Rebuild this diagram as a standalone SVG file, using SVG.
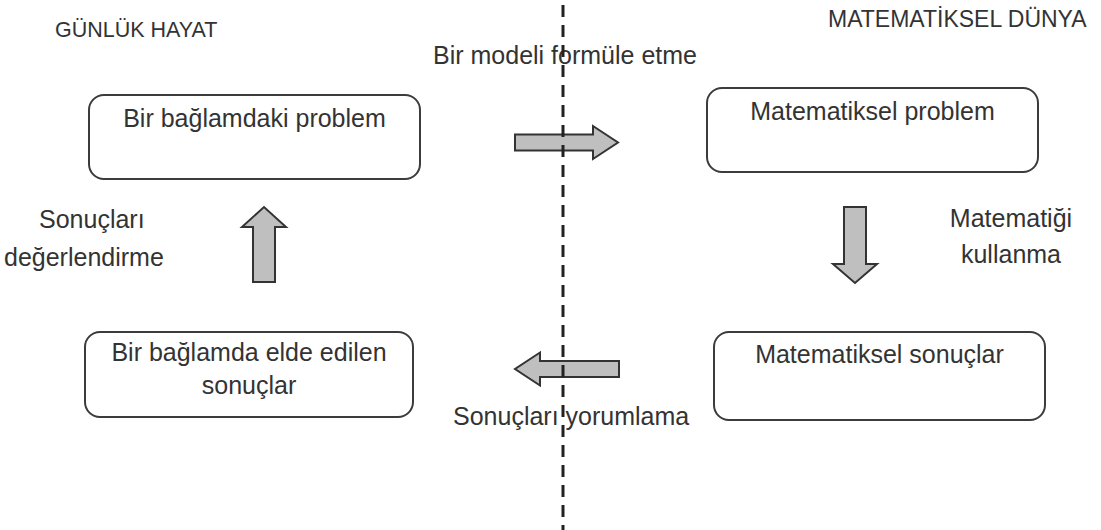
<svg xmlns="http://www.w3.org/2000/svg" width="1101" height="530" viewBox="0 0 1101 530">
  <style>
    .box { fill: #ffffff; stroke: #3c3c3c; stroke-width: 2; }
    .arrow { fill: #bfbfbf; stroke: #333333; stroke-width: 2; stroke-linejoin: miter; }
    .t { font-family: "Liberation Sans", Arial, sans-serif; font-size: 25px; fill: #333333; }
    .c { text-anchor: middle; }
    .title { font-family: "Liberation Sans", Arial, sans-serif; fill: #333333; }
    .divider { stroke: #222222; stroke-width: 3; stroke-dasharray: 12 8; fill: none; }
  </style>
  <rect x="0" y="0" width="1101" height="530" fill="#ffffff"/>

  <g id="title-gunluk-hayat">
    <text class="title" x="55" y="37" font-size="21.5">GÜNLÜK HAYAT</text>
  </g>
  <g id="title-matematiksel-dunya">
    <text class="title" x="828" y="27" font-size="23">MATEMATİKSEL DÜNYA</text>
  </g>

  <g id="node-baglamdaki-problem">
    <rect class="box" x="89" y="95" width="331" height="84" rx="15" ry="15"/>
    <text class="t c" x="254.5" y="127">Bir bağlamdaki problem</text>
  </g>
  <g id="node-matematiksel-problem">
    <rect class="box" x="707" y="88" width="331" height="84" rx="15" ry="15"/>
    <text class="t c" x="872.5" y="120">Matematiksel problem</text>
  </g>
  <g id="node-baglamda-sonuclar">
    <rect class="box" x="85" y="332" width="328" height="85" rx="15" ry="15"/>
    <text class="t c" x="249" y="361">Bir bağlamda elde edilen</text>
    <text class="t c" x="249" y="394">sonuçlar</text>
  </g>
  <g id="node-matematiksel-sonuclar">
    <rect class="box" x="714" y="332" width="331" height="88" rx="15" ry="15"/>
    <text class="t c" x="879.5" y="363">Matematiksel sonuçlar</text>
  </g>

  <g id="connectors">
    <polygon class="arrow" points="515,134.5 593,134.5 593,126 618,142.5 593,159 593,150.5 515,150.5"/>
    <polygon class="arrow" points="844,207 866,207 866,264 877,264 855,283 833,264 844,264"/>
    <polygon class="arrow" points="619,361 540,361 540,352.5 515,369 540,385.5 540,377 619,377"/>
    <polygon class="arrow" points="253,282 275,282 275,227 286,227 264,207 242,227 253,227"/>
  </g>

  <g id="label-formule">
    <text class="t" x="433" y="64">Bir modeli formüle etme</text>
  </g>
  <g id="label-matematigi-kullanma">
    <text class="t c" x="1011" y="227">Matematiği</text>
    <text class="t c" x="1011" y="263">kullanma</text>
  </g>
  <g id="label-yorumlama">
    <text class="t" x="453" y="425">Sonuçları yorumlama</text>
  </g>
  <g id="label-degerlendirme">
    <text class="t" x="39" y="228">Sonuçları</text>
    <text class="t" x="4" y="266">değerlendirme</text>
  </g>

  <g id="divider">
    <line class="divider" x1="563" y1="5" x2="563" y2="530"/>
  </g>
</svg>
